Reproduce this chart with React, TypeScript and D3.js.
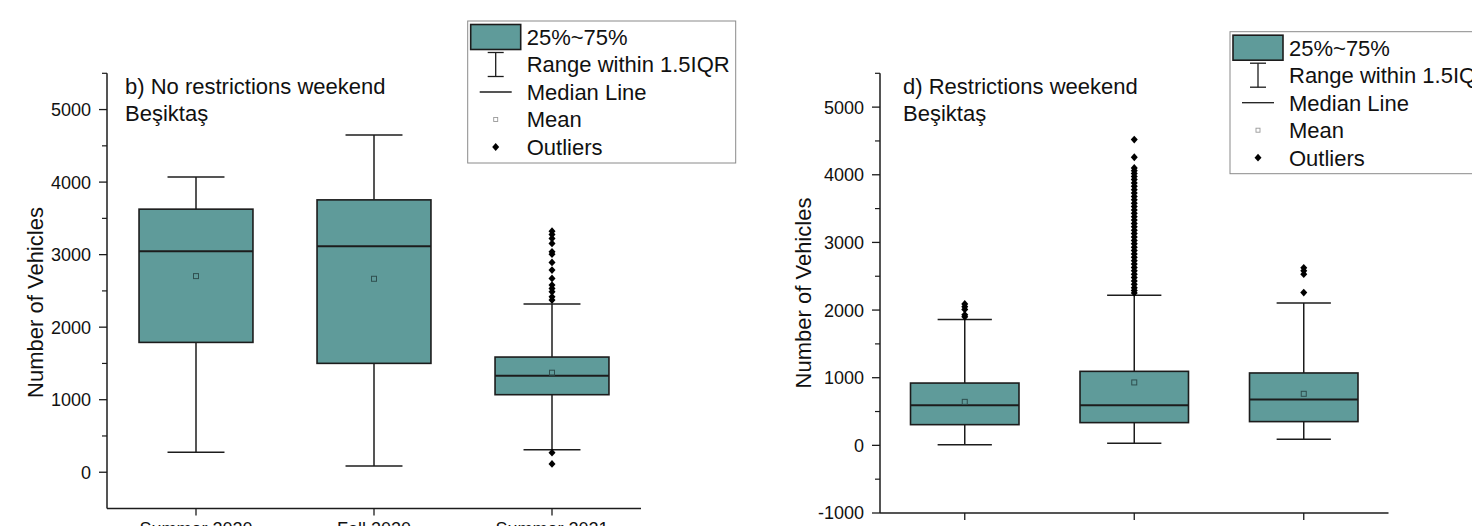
import * as d3 from "d3";

const FONT = "'Liberation Sans', Arial, Helvetica, sans-serif";
const TEAL = "#5f9b9a";
const INK = "#1c1c1c";

// panel b) No restrictions weekend
const categoriesB = ["Summer 2020", "Fall 2020", "Summer 2021"];
const q1B = [1790, 1501, 1069];
const medianB = [3048, 3117, 1331];
const q3B = [3627, 3755, 1588];
const whiskerLowB = [275, 87, 311];
const whiskerHighB = [4072, 4650, 2318];
const meanB = [2704, 2667, 1372];
const outliersB = [
  [],
  [],
  [3324, 3278, 3223, 3154, 3039, 3007, 2892, 2787, 2672, 2580, 2534, 2488, 2419, 2373, 270, 114],
];

// panel d) Restrictions weekend
const categoriesD = ["Summer 2020", "Fall 2020", "Summer 2021"];
const q1D = [306, 336, 351];
const medianD = [594, 594, 678];
const q3D = [921, 1094, 1070];
const whiskerLowD = [9, 30, 89];
const whiskerHighD = [1862, 2218, 2104];
const meanD = [643, 930, 762];
const outliersD = [
  [2090, 2050, 2010, 1930, 1900],
  [4521, 4259, 4100, 4060, 4020, 3975, 3930, 3880, 3830, 3780, 3730, 3680, 3630, 3580, 3530, 3480,
    3430, 3380, 3330, 3280, 3230, 3180, 3130, 3080, 3030, 2980, 2930, 2880, 2830, 2780, 2730, 2680,
    2630, 2580, 2530, 2480, 2430, 2380, 2330, 2290, 2253],
  [2624, 2580, 2530, 2258],
];

const legendItems = ["25%~75%", "Range within 1.5IQR", "Median Line", "Mean", "Outliers"];

const DIAMOND = "M0,-3.9L3.5,0L0,3.9L-3.5,0Z";

function BoxPanel({ cats, q1, med, q3, lo, hi, mean, outliers, x0, x1, yTop, yBottom, domain, majors, minors,
  title, titleX, labelX, labelY, showCats }) {
  const x = d3.scalePoint().domain(cats).range([x0, x1]).padding(0.5);
  const y = d3.scaleLinear().domain(domain).range([yBottom, yTop]);
  const bw = x.step() * 0.64;

  return (
    <g>
      {cats.map((c, i) => {
        const cx = x(c);
        return (
          <g key={c}>
            <line x1={cx} x2={cx} y1={y(hi[i])} y2={y(q3[i])} stroke={INK} strokeWidth={1.5} />
            <line x1={cx} x2={cx} y1={y(q1[i])} y2={y(lo[i])} stroke={INK} strokeWidth={1.5} />
            <line x1={cx - bw / 4} x2={cx + bw / 4} y1={y(hi[i])} y2={y(hi[i])} stroke={INK} strokeWidth={1.5} />
            <line x1={cx - bw / 4} x2={cx + bw / 4} y1={y(lo[i])} y2={y(lo[i])} stroke={INK} strokeWidth={1.5} />
            <rect x={cx - bw / 2} width={bw} y={y(q3[i])} height={y(q1[i]) - y(q3[i])}
              fill={TEAL} stroke={INK} strokeWidth={1.6} />
            <line x1={cx - bw / 2} x2={cx + bw / 2} y1={y(med[i])} y2={y(med[i])} stroke={INK} strokeWidth={2} />
            <rect x={cx - 2.5} y={y(mean[i]) - 2.5} width={5} height={5} fill="none" stroke="#2f4f4f" strokeWidth={1} />
            {outliers[i].map((v, j) => (
              <path key={j} d={DIAMOND} transform={`translate(${cx},${y(v)})`} fill="#000" />
            ))}
          </g>
        );
      })}

      {/* axes */}
      <line x1={x0} x2={x0} y1={yTop} y2={yBottom} stroke={INK} strokeWidth={1.5} />
      <line x1={x0} x2={x1} y1={yBottom} y2={yBottom} stroke={INK} strokeWidth={1.5} />
      {majors.map((t) => (
        <g key={t}>
          <line x1={x0 - 8} x2={x0} y1={y(t)} y2={y(t)} stroke={INK} strokeWidth={1.3} />
          <text x={x0 - 16} y={y(t)} dy="0.36em" textAnchor="end" fontSize={18} fill="#111">{t}</text>
        </g>
      ))}
      {minors.map((t) => (
        <line key={t} x1={x0 - 5} x2={x0} y1={y(t)} y2={y(t)} stroke={INK} strokeWidth={1.2} />
      ))}
      {cats.map((c) => (
        <g key={c}>
          <line x1={x(c)} x2={x(c)} y1={yBottom} y2={yBottom + 7} stroke={INK} strokeWidth={1.3} />
          {showCats && (
            <text x={x(c)} y={yBottom + 26} textAnchor="middle" fontSize={18} fill="#111">{c}</text>
          )}
        </g>
      ))}
      <text transform={`translate(${labelX},${labelY}) rotate(-90)`} textAnchor="middle" dy="0.36em"
        fontSize={22} fill="#111">Number of Vehicles</text>
      <text x={titleX} y={yTop + 21} fontSize={22} fill="#111">{title}</text>
      <text x={titleX} y={yTop + 48} fontSize={22} fill="#111">Beşiktaş</text>
    </g>
  );
}

function Legend({ tx, ty }) {
  const rowY = d3.scalePoint().domain(legendItems).range([16, 126]);
  const sx = 28;
  return (
    <g transform={`translate(${tx},${ty})`}>
      <rect x={0} y={0} width={268} height={142} fill="#fff" stroke="#8a8a8a" strokeWidth={1} />
      <rect x={3} y={rowY(legendItems[0]) - 12.5} width={50} height={25} fill={TEAL} stroke={INK} strokeWidth={1.6} />
      <g stroke={INK} strokeWidth={1.3}>
        <line x1={sx} x2={sx} y1={rowY(legendItems[1]) - 12} y2={rowY(legendItems[1]) + 12} />
        <line x1={sx - 8} x2={sx + 8} y1={rowY(legendItems[1]) - 12} y2={rowY(legendItems[1]) - 12} />
        <line x1={sx - 8} x2={sx + 8} y1={rowY(legendItems[1]) + 12} y2={rowY(legendItems[1]) + 12} />
        <line x1={sx - 16} x2={sx + 16} y1={rowY(legendItems[2])} y2={rowY(legendItems[2])} />
      </g>
      <rect x={sx - 2} y={rowY(legendItems[3]) - 2} width={4} height={4} fill="none" stroke="#999" strokeWidth={0.9} />
      <path d={DIAMOND} transform={`translate(${sx},${rowY(legendItems[4])})`} fill="#000" />
      {legendItems.map((t) => (
        <text key={t} x={59} y={rowY(t)} dy="0.36em" fontSize={22} fill="#111">{t}</text>
      ))}
    </g>
  );
}

export default function App() {
  return (
    <div style={{ position: "fixed", left: 0, top: 0 }}>
      <svg width={1472} height={526} style={{ display: "block", fontFamily: FONT, background: "#fff" }}>
        <rect width={1472} height={526} fill="#fff" />
        <BoxPanel cats={categoriesB} q1={q1B} med={medianB} q3={q3B} lo={whiskerLowB} hi={whiskerHighB}
          mean={meanB} outliers={outliersB} x0={107} x1={641} yTop={73.3} yBottom={508.5}
          domain={[-500, 5500]} majors={[0, 1000, 2000, 3000, 4000, 5000]}
          minors={[500, 1500, 2500, 3500, 4500, 5500]}
          title="b) No restrictions weekend" titleX={125} labelX={35} labelY={302.5} showCats={true} />
        <BoxPanel cats={categoriesD} q1={q1D} med={medianD} q3={q3D} lo={whiskerLowD} hi={whiskerHighD}
          mean={meanD} outliers={outliersD} x0={880} x1={1388.5} yTop={73.3} yBottom={513}
          domain={[-1000, 5500]} majors={[-1000, 0, 1000, 2000, 3000, 4000, 5000]}
          minors={[-500, 500, 1500, 2500, 3500, 4500, 5500]}
          title="d) Restrictions weekend" titleX={903} labelX={803} labelY={293} showCats={false} />
        <Legend tx={467.7} ty={21} />
        <Legend tx={1230} ty={31.7} />
      </svg>
    </div>
  );
}
